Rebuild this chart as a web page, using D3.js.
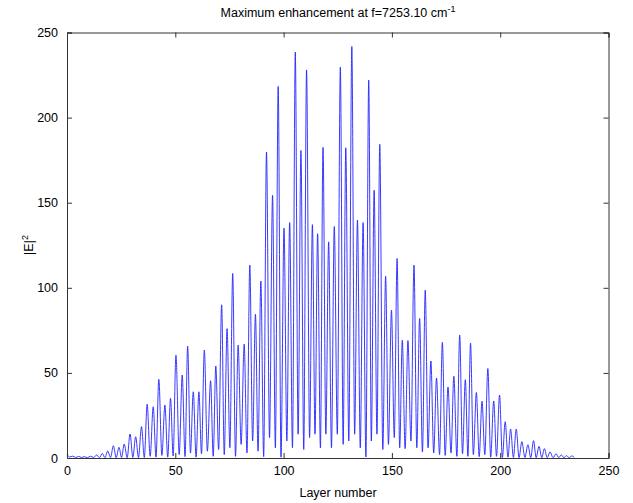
<!DOCTYPE html>
<html>
<head>
<meta charset="utf-8">
<script src="https://cdn.jsdelivr.net/npm/d3@7/dist/d3.min.js"></script>
<style>
  html, body { margin: 0; padding: 0; background: #fff; }
  svg { display: block; }
  text { font-family: "Liberation Sans", Arial, sans-serif; fill: #000; }
</style>
</head>
<body>
<svg id="chart" width="633" height="503"></svg>
<script>
// Extrema of the |E|^2 curve (peaks and troughs, in order)
const layers = [
  0, 1.2, 2.6, 4.0, 5.4, 6.7, 8.0, 9.4, 10.8, 12.3,
  13.7, 15.0, 16.3, 17.5, 18.8, 20.1, 21.4, 22.7, 24.0, 25.2,
  26.4, 27.8, 29.1, 30.4, 31.7, 33.0, 34.4, 35.7, 37.0, 38.4,
  39.8, 41.1, 42.4, 43.8, 45.2, 46.5, 47.8, 49.0, 50.3, 51.8,
  53.2, 54.5, 55.7, 57.0, 58.3, 59.6, 60.9, 62.1, 63.4, 64.8,
  66.3, 67.5, 68.7, 70.0, 71.4, 72.6, 73.9, 75.2, 76.5, 77.8,
  79.0, 80.4, 81.8, 83.1, 84.4, 85.7, 87.0, 88.2, 89.5, 90.8,
  92.1, 93.5, 94.9, 96.2, 97.5, 98.8, 100.2, 101.5, 102.8, 104.1,
  105.4, 106.7, 108.0, 109.3, 110.6, 112.0, 113.3, 114.5, 115.7, 117.0,
  118.2, 119.5, 120.8, 122.1, 123.4, 124.8, 126.2, 127.5, 128.7, 130.1,
  131.5, 132.8, 134.1, 135.4, 136.7, 138.0, 139.3, 140.5, 141.8, 143.1,
  144.4, 145.8, 147.1, 148.4, 149.8, 151.1, 152.4, 153.6, 154.8, 156.1,
  157.4, 158.8, 160.2, 161.5, 162.8, 164.1, 165.4, 166.7, 168.0, 169.3,
  170.6, 172.0, 173.3, 174.6, 175.9, 177.3, 178.6, 180.0, 181.3, 182.6,
  183.9, 185.1, 186.3, 187.6, 189.0, 190.3, 191.6, 192.9, 194.3, 195.6,
  197.0, 198.3, 199.7, 201.0, 202.3, 203.6, 204.8, 206.1, 207.4, 208.7,
  210.0, 211.4, 212.8, 214.1, 215.4, 216.6, 217.9, 219.2, 220.4, 221.7,
  223.0, 224.4, 225.8, 227.0, 228.2, 229.4, 230.6, 231.8, 233.0, 234.2
];
const intensity = [
  2.2, 0.6, 1.1, 0.3, 0.9, 0.3, 0.8, 0.2, 1.0, 0.3,
  1.8, 0.2, 2.7, 0.2, 4.1, 0.3, 7.2, 0.2, 6.3, 0.3,
  8.2, 0.2, 14.1, 0.3, 12.5, 0.2, 18.4, 0.3, 31.5, 1.0,
  30.1, 0.5, 46.2, 1.5, 31.1, 0.5, 35.0, 1.2, 60.4, 2.0,
  48.7, 0.8, 65.7, 3.0, 38.9, 0.5, 38.9, 2.5, 63.4, 4.0,
  45.4, 1.0, 54.0, 5.0, 90.0, 2.0, 76.0, 6.0, 108.4, 1.0,
  66.3, 8.0, 66.9, 3.0, 113.3, 10.0, 84.5, 4.0, 104.0, 0.8,
  179.8, 12.0, 154.3, 6.0, 218.3, 0.5, 135.0, 10.0, 138.3, 6.0,
  238.5, 14.0, 180.7, 5.0, 228.0, 12.0, 137.1, 14.0, 131.8, 6.0,
  182.5, 14.0, 127.0, 6.0, 136.0, 14.0, 229.6, 8.0, 182.3, 10.0,
  241.8, 14.0, 139.8, 6.0, 138.3, 0.6, 222.0, 10.0, 157.3, 14.0,
  184.3, 5.0, 106.8, 8.0, 86.9, 12.0, 117.2, 6.0, 69.2, 5.5,
  69.0, 10.0, 113.3, 6.0, 82.0, 3.5, 98.6, 6.0, 57.0, 3.0,
  47.0, 2.0, 68.0, 1.5, 41.7, 3.0, 48.0, 1.0, 72.2, 2.5,
  46.0, 1.0, 67.5, 2.0, 38.5, 0.8, 33.3, 2.0, 52.6, 0.5,
  33.5, 1.0, 37.0, 0.3, 21.3, 0.5, 17.0, 0.3, 17.0, 0.2,
  9.6, 0.3, 7.8, 0.2, 10.2, 0.2, 6.8, 0.2, 5.5, 0.2,
  3.6, 0.2, 2.5, 0.2, 1.8, 0.2, 1.4, 0.2, 1.2, 0.3
];
const xTicks = [0, 50, 100, 150, 200, 250];
const yTicks = [0, 50, 100, 150, 200, 250];
const titleMain = "Maximum enhancement at f=7253.10 cm";
const titleSup = "-1";
const xLabel = "Layer number";
const yLabelMain = "|E|";
const yLabelSup = "2";

const svg = d3.select("#chart");
const m = { left: 67, right: 608.5, top: 32.5, bottom: 458 };
const x = d3.scaleLinear().domain([0, 250]).range([m.left, m.right]);
const y = d3.scaleLinear().domain([0, 250]).range([m.bottom, m.top]);

const points = layers.map((l, i) => [l, intensity[i]]);

// data line
svg.append("path")
  .datum(points)
  .attr("fill", "none")
  .attr("stroke", "#2424ff")
  .attr("stroke-width", 0.9)
  .attr("d", d3.line().x(d => x(d[0])).y(d => y(d[1])).curve(d3.curveMonotoneX));

const axisColor = "#333";
const tickLen = 5;
const fs = 12.5;
// axes with inward ticks on all four sides
const gB = svg.append("g").attr("transform", `translate(0,${m.bottom})`)
  .call(d3.axisBottom(x).tickValues(xTicks).tickSize(-tickLen).tickPadding(8).tickFormat(d3.format("d")));
const gT = svg.append("g").attr("transform", `translate(0,${m.top})`)
  .call(d3.axisTop(x).tickValues(xTicks).tickSize(-tickLen).tickFormat(""));
const gL = svg.append("g").attr("transform", `translate(${m.left},0)`)
  .call(d3.axisLeft(y).tickValues(yTicks).tickSize(-tickLen).tickPadding(9).tickFormat(d3.format("d")));
const gR = svg.append("g").attr("transform", `translate(${m.right},0)`)
  .call(d3.axisRight(y).tickValues(yTicks).tickSize(-tickLen).tickFormat(""));

[gB, gT, gL, gR].forEach(g => {
  g.select(".domain").attr("stroke", axisColor).attr("stroke-width", 1);
  g.selectAll(".tick line").attr("stroke", axisColor);
  g.selectAll(".tick text").attr("font-size", fs).attr("fill", "#000")
    .attr("font-family", "'Liberation Sans', Arial, sans-serif");
});

// title
const t = svg.append("text").attr("x", 338).attr("y", 17).attr("text-anchor", "middle").attr("font-size", fs);
t.append("tspan").text(titleMain);
t.append("tspan").attr("dy", -5).attr("font-size", 9).text(titleSup);

// x label
svg.append("text").attr("x", 338).attr("y", 497).attr("text-anchor", "middle")
  .attr("font-size", fs).text(xLabel);

// y label
const yl = svg.append("text").attr("transform", "translate(33,245) rotate(-90)")
  .attr("text-anchor", "middle").attr("font-size", fs);
yl.append("tspan").text(yLabelMain);
yl.append("tspan").attr("dy", -5).attr("font-size", 9).text(yLabelSup);
</script>
</body>
</html>
